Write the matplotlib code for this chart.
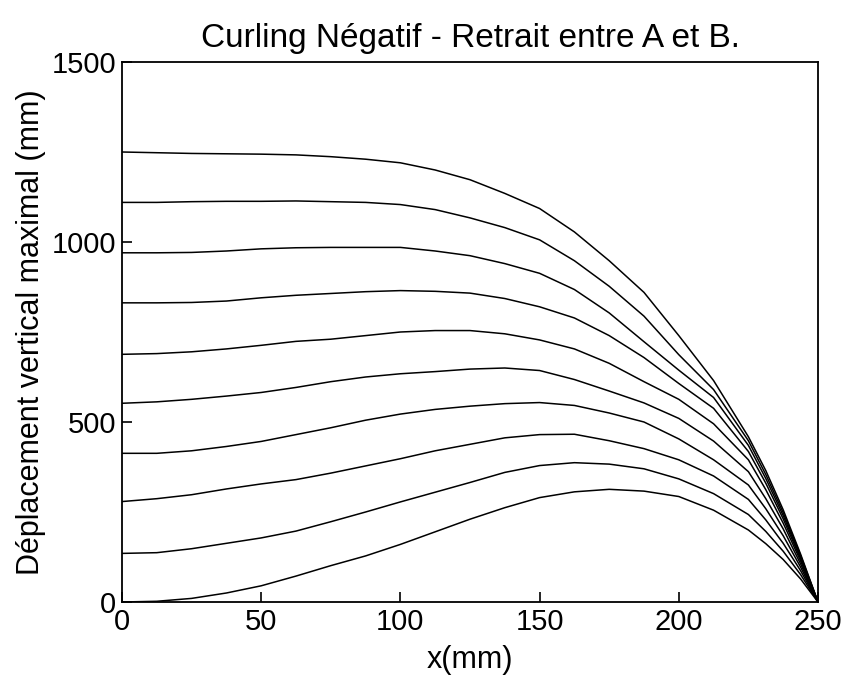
import matplotlib
matplotlib.use("Agg")
import matplotlib.pyplot as plt

x_mm = [0, 12.5, 25, 37.5, 50, 62.5, 75, 87.5, 100, 112.5, 125, 137.5, 150,
        162.5, 175, 187.5, 200, 212.5, 225, 231.25, 237.5, 243.75, 250]

c1 = [1250, 1248, 1246, 1245, 1244, 1242, 1237, 1230, 1220, 1200, 1173, 1135, 1093,
      1028, 948, 860, 740, 615, 459, 365, 256, 133, 0]
c2 = [1110, 1110, 1112, 1113, 1113, 1114, 1112, 1110, 1104, 1090, 1067, 1040, 1006,
      948, 877, 794, 687, 590, 448, 354, 248, 129, 0]
c3 = [970, 970, 971, 975, 981, 984, 985, 985, 985, 975, 962, 940, 913,
      868, 803, 723, 644, 568, 435, 343, 240, 125, 0]
c4 = [831, 831, 832, 836, 845, 852, 857, 862, 865, 863, 858, 843, 820,
      789, 740, 679, 607, 538, 418, 330, 231, 120, 0]
c5 = [688, 690, 695, 703, 713, 724, 730, 740, 750, 754, 754, 745, 728,
      703, 663, 612, 563, 495, 395, 312, 219, 114, 0]
c6 = [552, 556, 563, 572, 582, 596, 612, 625, 634, 640, 647, 650, 643,
      618, 586, 553, 510, 447, 362, 287, 203, 106, 0]
c7 = [413, 413, 420, 432, 446, 465, 484, 505, 522, 535, 544, 551, 554,
      546, 525, 500, 453, 395, 325, 259, 184, 97, 0]
c8 = [279, 287, 298, 314, 328, 340, 358, 378, 398, 420, 438, 456, 465,
      466, 448, 426, 395, 350, 285, 228, 163, 87, 0]
c9 = [135, 137, 148, 163, 178, 197, 223, 250, 278, 305, 332, 360, 379,
      387, 383, 370, 342, 301, 243, 196, 141, 76, 0]
c10 = [0, 2, 10, 25, 45, 72, 101, 128, 160, 195, 230, 262, 290,
       306, 313, 308, 293, 255, 200, 162, 118, 64, 0]

curves = [c1, c2, c3, c4, c5, c6, c7, c8, c9, c10]

x_ticks = [0, 50, 100, 150, 200, 250]
y_ticks = [0, 500, 1000, 1500]

title = "Curling Négatif - Retrait entre A et B."
xlabel = "x(mm)"
ylabel = "Déplacement vertical maximal (mm)"

plt.rcParams['font.family'] = ['Liberation Sans', 'DejaVu Sans']

fig = plt.figure(figsize=(8.47, 6.8), dpi=100)
ax = fig.add_axes([122/847, 1-602/680, (818-122)/847, (602-62)/680])

for c in curves:
    ax.plot(x_mm, c, color='black', lw=1.1)

ax.set_xlim(0, 250)
ax.set_ylim(0, 1500)
ax.set_xticks(x_ticks)
ax.set_yticks(y_ticks)
ax.tick_params(direction='in', length=7, width=1.2, labelsize=21, pad=4,
               top=False, right=False)
for s in ax.spines.values():
    s.set_linewidth(1.3)

ax.set_title(title, fontsize=24, pad=11)
ax.set_xlabel(xlabel, fontsize=22, labelpad=7)
ax.set_ylabel(ylabel, fontsize=22, labelpad=4)

fig.savefig("out.png", dpi=100)
